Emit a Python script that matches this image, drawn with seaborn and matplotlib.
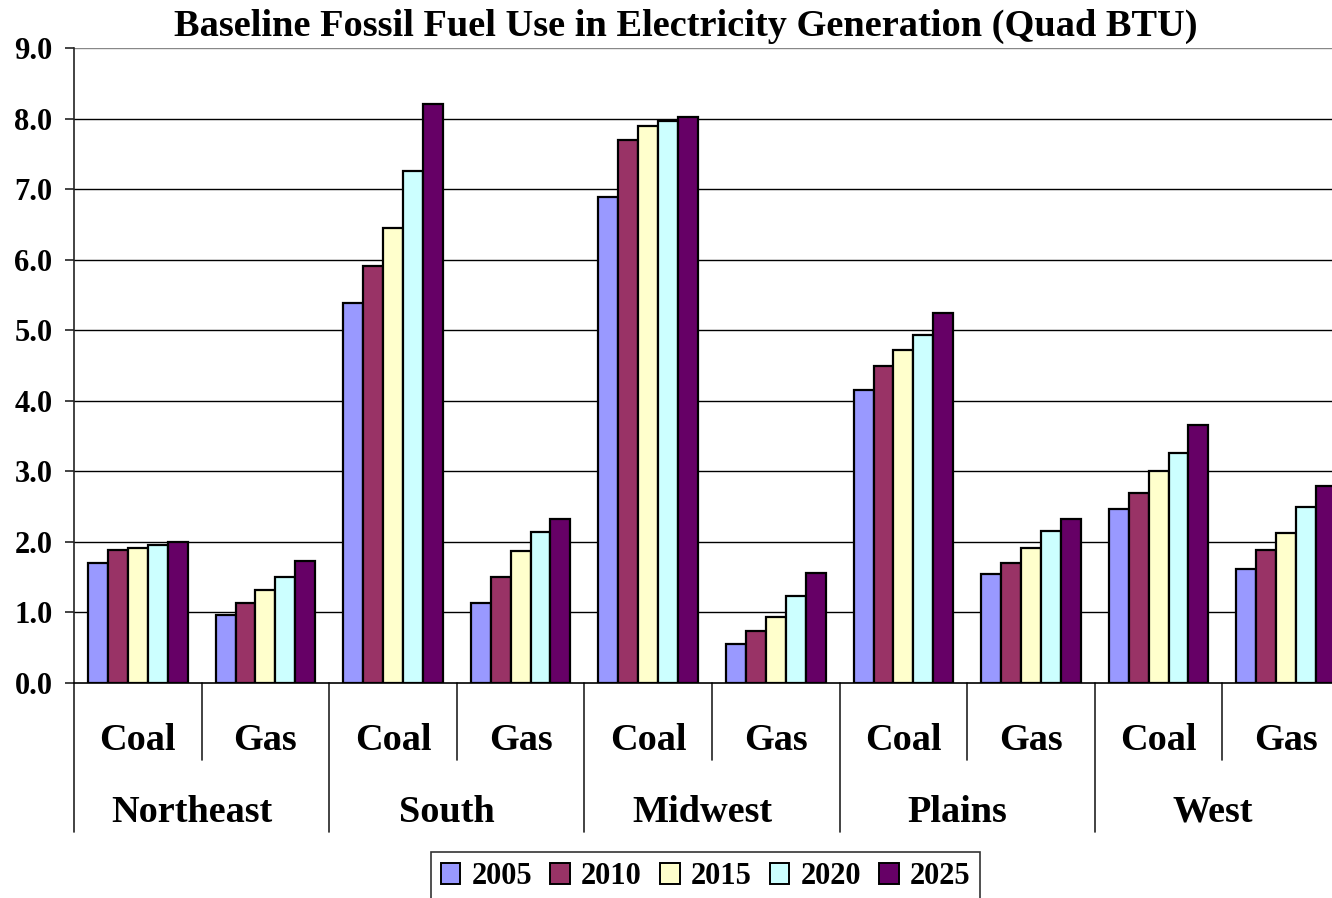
import matplotlib
matplotlib.use("Agg")
import matplotlib.pyplot as plt
import matplotlib.transforms as mtransforms
from matplotlib.patches import Patch
import seaborn as sns
import pandas as pd

# Regions and fuels, each region split into Coal / Gas
regions = ["Northeast", "South", "Midwest", "Plains", "West"]
fuels = ["Coal", "Gas"]
years = ["2005", "2010", "2015", "2020", "2025"]

# Fossil fuel use (Quad BTU) per region/fuel, one list per year
use_2005 = [1.70, 0.97, 5.39, 1.13, 6.89, 0.55, 4.15, 1.55, 2.47, 1.62]
use_2010 = [1.89, 1.14, 5.91, 1.50, 7.69, 0.73, 4.50, 1.70, 2.69, 1.88]
use_2015 = [1.92, 1.32, 6.45, 1.87, 7.90, 0.93, 4.72, 1.91, 3.00, 2.13]
use_2020 = [1.96, 1.50, 7.26, 2.14, 7.96, 1.24, 4.93, 2.16, 3.26, 2.50]
use_2025 = [2.00, 1.73, 8.21, 2.32, 8.02, 1.56, 5.25, 2.32, 3.65, 2.79]

colors = ["#9999FF", "#993366", "#FFFFCC", "#CCFFFF", "#660066"]

categories = [f"{r} {f}" for r in regions for f in fuels]
series = [use_2005, use_2010, use_2015, use_2020, use_2025]
rows = []
for yr, vals in zip(years, series):
    for cat, v in zip(categories, vals):
        rows.append({"Category": cat, "Year": yr, "Value": v})
df = pd.DataFrame(rows)

sns.set_theme(style="white")
plt.rcParams["font.family"] = ["Liberation Serif", "DejaVu Serif"]
plt.rcParams["font.weight"] = "bold"
plt.rcParams["text.color"] = "black"
plt.rcParams["xtick.color"] = "black"
plt.rcParams["ytick.color"] = "black"

fig = plt.figure(figsize=(13.32, 8.98), dpi=100)
W, H = 1332, 898
left, right, top, bottom = 74, 1350, 48, 683
ax = fig.add_axes([left / W, 1 - bottom / H, (right - left) / W, (bottom - top) / H])

sns.barplot(data=df, x="Category", y="Value", hue="Year", order=categories,
            hue_order=years, palette=colors, saturation=1, width=0.78,
            dodge=True, edgecolor="black", linewidth=1.6, errorbar=None,
            ax=ax, zorder=3, legend=False)

ax.set_xlim(-0.5, len(categories) - 0.5)
ax.set_ylim(0, 9)
ax.set_yticks(range(0, 10))
ax.set_yticklabels([f"{v:.1f}" for v in range(0, 10)], fontsize=22, fontweight="bold")
ax.set_xticks([])
ax.set_xlabel("")
ax.set_ylabel("")

# Horizontal gridlines
for v in range(1, 10):
    ax.axhline(v, color="black" if v < 9 else "#888888", lw=1.0, zorder=1)

for s in ["top", "right"]:
    ax.spines[s].set_visible(False)
ax.spines["left"].set_color("#222222")
ax.spines["left"].set_linewidth(1.2)
ax.spines["bottom"].set_color("black")
ax.spines["bottom"].set_linewidth(1.2)
ax.tick_params(axis="y", direction="out", length=6.5, width=1.2, color="#222222",
               left=True, pad=9)

# Two-level category axis: fuel labels and region labels with dividers
trans = mtransforms.blended_transform_factory(ax.transData, ax.transAxes)
ah = bottom - top
fuel_y = -57 / ah
region_y = -129 / ah
short_div = -77 / ah
long_div = -149 / ah

for i, cat in enumerate(categories):
    ax.text(i, fuel_y, fuels[i % 2], transform=trans, ha="center", va="center",
            fontsize=27.5, fontweight="bold")
for j, reg in enumerate(regions):
    ax.text(2 * j + 0.5 - 0.078, region_y, reg, transform=trans, ha="center",
            va="center", fontsize=27.5, fontweight="bold")
for k in range(len(categories) + 1):
    xb = k - 0.5
    y_end = long_div if k % 2 == 0 else short_div
    ax.plot([xb, xb], [0, y_end], transform=trans, color="#222222", lw=1.2,
            clip_on=False)

fig.text((170 + 1202) / 2 / W, 1 - 36 / H,
         "Baseline Fossil Fuel Use in Electricity Generation (Quad BTU)",
         va="baseline", ha="center", fontsize=27.6, fontweight="bold")

# Legend of years
handles = [Patch(facecolor=c, edgecolor="black", linewidth=1.4) for c in colors]
leg = fig.legend(handles, years, loc="upper center", ncol=5,
                 bbox_to_anchor=(705.5 / W, 1 - 852 / H), frameon=True,
                 fancybox=False, edgecolor="black",
                 prop={"weight": "bold", "size": 22},
                 handlelength=0.65, handleheight=0.65, handletextpad=0.36,
                 columnspacing=0.59, borderpad=0.33, borderaxespad=0)
leg.get_frame().set_linewidth(1.2)

fig.savefig("out.png", dpi=100)
